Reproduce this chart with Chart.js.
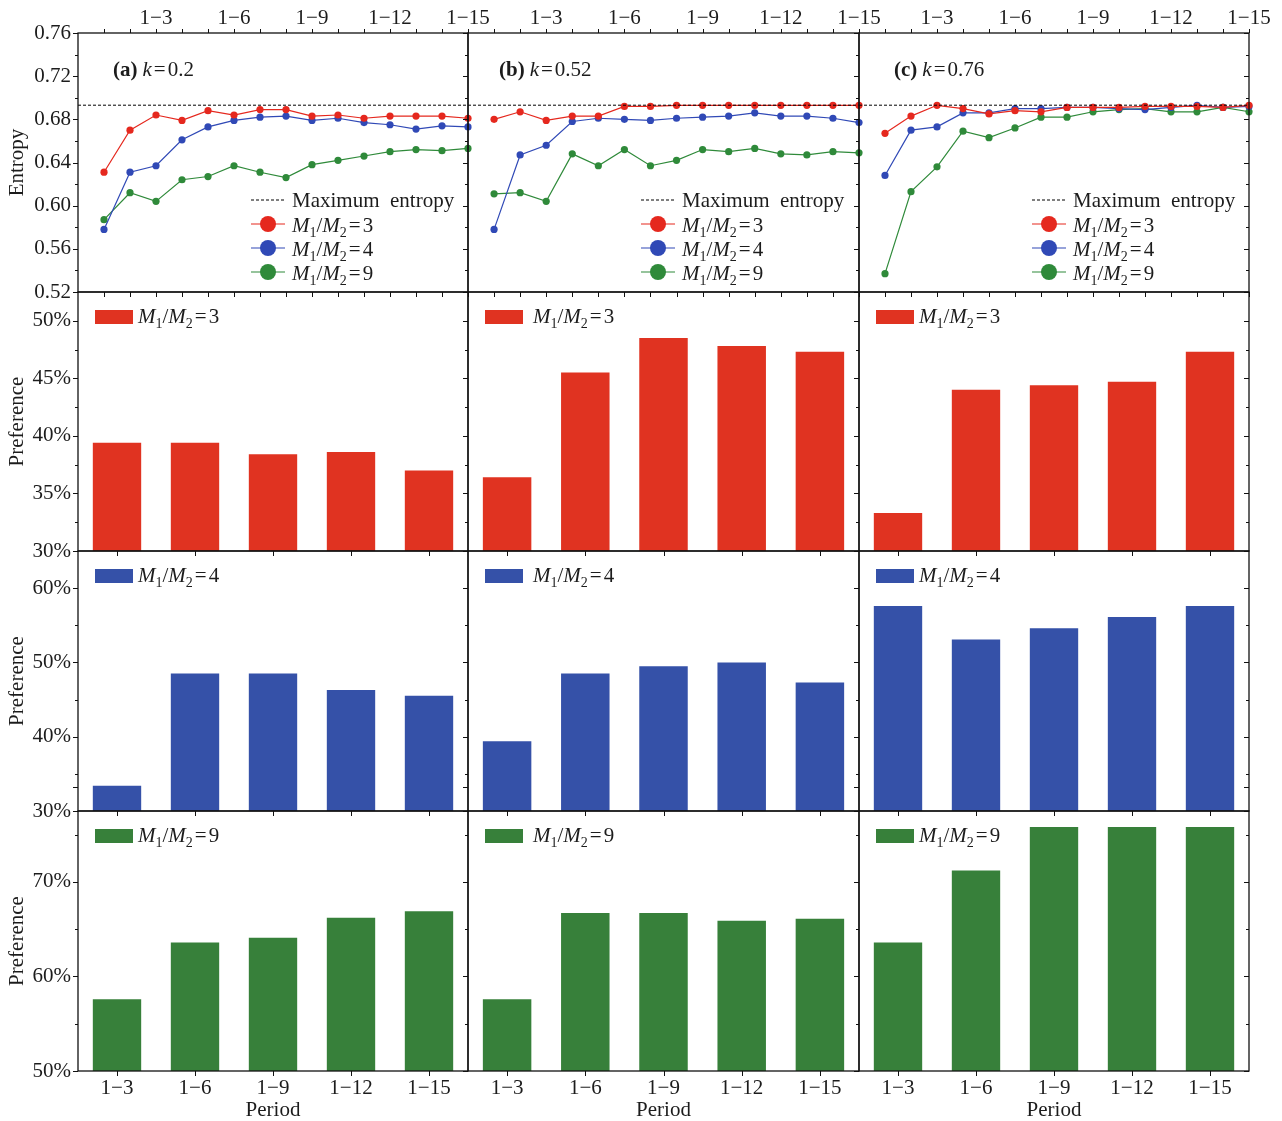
<!DOCTYPE html>
<html>
<head>
<meta charset="utf-8">
<script src="https://cdn.jsdelivr.net/npm/chart.js@4.4.1/dist/chart.umd.min.js"></script>
<style>
  html, body { margin: 0; padding: 0; background: #fff; overflow: hidden; }
  #fig { position: relative; width: 1282px; height: 1121px; overflow: hidden; background: #fff; }
  #fig canvas { position: absolute; }
</style>
</head>
<body>
<div id="fig"></div>
<script>
// ---------- data ----------
const periodLabels = ['1−3', '1−6', '1−9', '1−12', '1−15'];
const rounds = [1, 2, 3, 4, 5, 6, 7, 8, 9, 10, 11, 12, 13, 14, 15];
const roundTicks = [3, 6, 9, 12, 15];
const entropyTicks = [0.52, 0.56, 0.60, 0.64, 0.68, 0.72, 0.76];
const maxEntropy = 0.6931;

const kValues = ['0.2', '0.52', '0.76'];
const panelTags = ['(a)', '(b)', '(c)'];
const ratios = [3, 4, 9];

// entropy per round, one array per (k, M1/M2)
const entropyA3 = [0.631, 0.670, 0.684, 0.679, 0.688, 0.684, 0.689, 0.689, 0.683, 0.684, 0.681, 0.683, 0.683, 0.683, 0.681];
const entropyA4 = [0.578, 0.631, 0.637, 0.661, 0.673, 0.679, 0.682, 0.683, 0.679, 0.681, 0.677, 0.675, 0.671, 0.674, 0.673];
const entropyA9 = [0.587, 0.612, 0.604, 0.624, 0.627, 0.637, 0.631, 0.626, 0.638, 0.642, 0.646, 0.650, 0.652, 0.651, 0.653];
const entropyB3 = [0.680, 0.687, 0.679, 0.683, 0.683, 0.692, 0.692, 0.693, 0.693, 0.693, 0.693, 0.693, 0.693, 0.693, 0.693];
const entropyB4 = [0.578, 0.647, 0.656, 0.678, 0.681, 0.680, 0.679, 0.681, 0.682, 0.683, 0.686, 0.683, 0.683, 0.681, 0.677];
const entropyB9 = [0.611, 0.612, 0.604, 0.648, 0.637, 0.652, 0.637, 0.642, 0.652, 0.650, 0.653, 0.648, 0.647, 0.650, 0.649];
const entropyC3 = [0.667, 0.683, 0.693, 0.690, 0.685, 0.688, 0.687, 0.691, 0.691, 0.691, 0.692, 0.692, 0.692, 0.691, 0.693];
const entropyC4 = [0.628, 0.670, 0.673, 0.686, 0.686, 0.690, 0.690, 0.691, 0.691, 0.690, 0.689, 0.691, 0.693, 0.691, 0.692];
const entropyC9 = [0.537, 0.613, 0.636, 0.669, 0.663, 0.672, 0.682, 0.682, 0.687, 0.689, 0.690, 0.687, 0.687, 0.691, 0.687];

// preference (%) per cumulative period
const prefA3 = [39.4, 39.4, 38.4, 38.6, 37.0];
const prefB3 = [36.4, 45.5, 48.5, 47.8, 47.3];
const prefC3 = [33.3, 44.0, 44.4, 44.7, 47.3];
const prefA4 = [33.4, 48.5, 48.5, 46.3, 45.5];
const prefB4 = [39.4, 48.5, 49.5, 50.0, 47.3];
const prefC4 = [57.6, 53.1, 54.6, 56.1, 57.6];
const prefA9 = [57.6, 63.6, 64.1, 66.2, 66.9];
const prefB9 = [57.6, 66.7, 66.7, 65.9, 66.1];
const prefC9 = [63.6, 71.2, 75.8, 75.8, 75.8];

const prefTicks3 = [30, 35, 40, 45, 50];
const prefTicks4 = [30, 40, 50, 60];
const prefTicks9 = [50, 60, 70];

// ---------- styling ----------
const FONT = "'Liberation Serif', 'Times New Roman', serif";
const INK = '#1c1c1c';
const LINE_COL = { 3: '#e5281e', 4: '#3049b6', 9: '#2f8a3a' };
const BAR_COL = { 3: '#e03321', 4: '#3551a8', 9: '#37803a' };

Chart.defaults.font.family = FONT;
Chart.defaults.color = INK;

// grid geometry (plot-area edges)
const COL_X = [78, 468, 859, 1249];
const ROW_Y = [33, 292, 551, 811, 1071];
const M_LEFT = 78, M_TOP = 33, M_RIGHT = 40, M_BOTTOM = 50;

// ---------- mixed-style text ----------
function drawRich(ctx, parts, x, baseline) {
  let cx = x;
  ctx.textBaseline = 'alphabetic';
  ctx.textAlign = 'left';
  for (const p of parts) {
    const size = p.sub ? 14 : 21;
    ctx.font = (p.b ? 'bold ' : '') + (p.i ? 'italic ' : '') + size + 'px ' + FONT;
    ctx.fillText(p.t, cx, baseline + (p.sub ? 5 : 0));
    cx += ctx.measureText(p.t).width + (p.gap || 0);
  }
}
const ratioText = n => [
  { t: 'M', i: 1 }, { t: '1', sub: 1 }, { t: '/' }, { t: 'M', i: 1 },
  { t: '2', sub: 1, gap: 2 }, { t: '=', gap: 2 }, { t: String(n) }
];

// frame, tick marks, legend and panel tag
const panelDecor = {
  id: 'panelDecor',
  afterDraw(chart, args, o) {
    const { ctx } = chart;
    const { left, right, top, bottom } = chart.chartArea;
    const ys = chart.scales.y, xs = chart.scales.x;
    const seg = (x1, y1, x2, y2) => { ctx.beginPath(); ctx.moveTo(x1, y1); ctx.lineTo(x2, y2); ctx.stroke(); };
    ctx.save();
    ctx.strokeStyle = '#111';
    ctx.lineWidth = 1;
    // y tick marks: outward on the left, inward on the right
    const n = Math.round((o.yMax - o.yMin) / o.yMinor);
    for (let i = 0; i <= n; i++) {
      const v = o.yMin + i * o.yMinor;
      const r = (v - o.yMajorFrom) / o.yMajor;
      const major = Math.abs(r - Math.round(r)) < 1e-6;
      const len = major ? 5 : 3;
      const py = Math.round(ys.getPixelForValue(v)) + 0.5;
      seg(left - len, py, left, py);
      seg(right - len, py, right, py);
    }
    // x tick marks
    for (const v of o.xMarks) {
      const px = Math.round(xs.getPixelForValue(v)) + 0.5;
      if (o.xTop) seg(px, top - 4, px, top);
      seg(px, bottom, px, bottom + 5);
    }
    // frame
    ctx.lineWidth = 1.3;
    ctx.strokeRect(left, top, right - left, bottom - top);

    ctx.fillStyle = INK;
    if (o.tag) {
      drawRich(ctx, [{ t: o.tag.name, b: 1, gap: 5 }, { t: 'k', i: 1, gap: 2 }, { t: '=', gap: 2 }, { t: o.tag.k }],
        left + o.tag.dx, top + 43);
    }
    if (o.lineLegend) {
      const lx = left + 173, tx = left + 214;
      let y = top + 167;
      ctx.strokeStyle = '#000';
      ctx.lineWidth = 1;
      ctx.setLineDash([3, 2]);
      seg(lx, y, lx + 34, y);
      ctx.setLineDash([]);
      ctx.fillStyle = INK;
      ctx.font = '21px ' + FONT;
      ctx.textBaseline = 'alphabetic';
      ctx.fillText('Maximum  entropy', tx, y + 7);
      ratios.forEach((m, i) => {
        const cy = top + 191 + i * 24;
        ctx.strokeStyle = LINE_COL[m];
        ctx.lineWidth = 1.2;
        seg(lx, cy, lx + 34, cy);
        ctx.fillStyle = LINE_COL[m];
        ctx.beginPath(); ctx.arc(lx + 17, cy, 8, 0, Math.PI * 2); ctx.fill();
        ctx.fillStyle = INK;
        drawRich(ctx, ratioText(m), tx, cy + 7.5);
      });
    }
    if (o.barLegend) {
      ctx.fillStyle = o.barLegend.color;
      ctx.fillRect(left + 17, top + 18, 38, 14);
      ctx.fillStyle = INK;
      drawRich(ctx, ratioText(o.barLegend.m), left + o.barLegend.tx, top + 31);
    }
    ctx.restore();
  }
};

// ---------- canvas placement ----------
const fig = document.getElementById('fig');
function makeCanvas(r, c) {
  const cv = document.createElement('canvas');
  const w = M_LEFT + (COL_X[c + 1] - COL_X[c]) + M_RIGHT;
  const h = M_TOP + (ROW_Y[r + 1] - ROW_Y[r]) + M_BOTTOM;
  cv.width = w; cv.height = h;
  cv.style.left = (COL_X[c] - M_LEFT) + 'px';
  cv.style.top = (ROW_Y[r] - M_TOP) + 'px';
  cv.style.width = w + 'px'; cv.style.height = h + 'px';
  fig.appendChild(cv);
  return cv;
}

const tickFont = { family: FONT, size: 21 };
const titleFont = { family: FONT, size: 21, lineHeight: 1 };

// ---------- entropy panels ----------
const entropySets = [
  [entropyA3, entropyA4, entropyA9],
  [entropyB3, entropyB4, entropyB9],
  [entropyC3, entropyC4, entropyC9]
];
const tagDx = [35, 31, 35];

entropySets.forEach((sets, c) => {
  const first = c === 0;
  const datasets = [{
    data: [{ x: 0, y: maxEntropy }, { x: 15, y: maxEntropy }],
    borderColor: '#000', borderWidth: 1, borderDash: [3, 2], pointRadius: 0
  }];
  sets.forEach((vals, i) => {
    const col = LINE_COL[ratios[i]];
    datasets.push({
      data: rounds.map((x, j) => ({ x, y: vals[j] })),
      borderColor: col, backgroundColor: col, pointBackgroundColor: col,
      pointBorderWidth: 0, borderWidth: 1.2, pointRadius: 3.6, clip: false
    });
  });
  new Chart(makeCanvas(0, c), {
    type: 'line',
    data: { datasets },
    options: {
      responsive: false, animation: false, devicePixelRatio: 1,
      layout: { padding: { right: M_RIGHT, bottom: M_BOTTOM, left: 0, top: 0 } },
      plugins: {
        legend: { display: false }, tooltip: { enabled: false },
        panelDecor: {
          yMin: 0.52, yMax: 0.76, yMinor: 0.02, yMajor: 0.04, yMajorFrom: 0.52,
          xMarks: rounds, xTop: true,
          tag: { name: panelTags[c], k: kValues[c], dx: tagDx[c] },
          lineLegend: true
        }
      },
      scales: {
        x: {
          type: 'linear', position: 'top', min: 0, max: 15,
          afterBuildTicks: s => { s.ticks = roundTicks.map(v => ({ value: v })); },
          ticks: { callback: v => '1−' + v, font: tickFont, color: INK, padding: 2, maxRotation: 0, autoSkip: false },
          grid: { display: false, drawTicks: false }, border: { display: false },
          afterFit: s => { s.height = M_TOP; }
        },
        y: {
          min: 0.52, max: 0.76,
          afterBuildTicks: s => { s.ticks = entropyTicks.map(v => ({ value: v })); },
          ticks: { display: first, callback: v => v.toFixed(2), font: tickFont, color: INK, padding: 7 },
          title: { display: first, text: 'Entropy', font: titleFont, color: INK, padding: { top: 7, bottom: 0 } },
          grid: { display: false, drawTicks: false }, border: { display: false },
          afterFit: s => { s.width = M_LEFT; }
        }
      }
    },
    plugins: [panelDecor]
  });
});

// ---------- preference panels ----------
const prefRows = [
  { m: 3, sets: [prefA3, prefB3, prefC3], min: 30, max: 52.5, ticks: prefTicks3, minor: 2.5, major: 5 },
  { m: 4, sets: [prefA4, prefB4, prefC4], min: 30, max: 65, ticks: prefTicks4, minor: 5, major: 10 },
  { m: 9, sets: [prefA9, prefB9, prefC9], min: 50, max: 77.5, ticks: prefTicks9, minor: 5, major: 10 }
];
const legendTextX = [60, 65, 60];

prefRows.forEach((row, ri) => {
  const r = ri + 1;
  const last = r === 3;
  row.sets.forEach((vals, c) => {
    const first = c === 0;
    new Chart(makeCanvas(r, c), {
      type: 'bar',
      data: {
        labels: periodLabels,
        datasets: [{
          data: vals, backgroundColor: BAR_COL[row.m], borderWidth: 0,
          barPercentage: 0.62, categoryPercentage: 1
        }]
      },
      options: {
        responsive: false, animation: false, devicePixelRatio: 1,
        layout: { padding: { top: M_TOP, right: M_RIGHT, left: 0, bottom: 0 } },
        plugins: {
          legend: { display: false }, tooltip: { enabled: false },
          panelDecor: {
            yMin: row.min, yMax: row.max, yMinor: row.minor, yMajor: row.major, yMajorFrom: row.min,
            xMarks: [0, 1, 2, 3, 4], xTop: false,
            barLegend: { m: row.m, color: BAR_COL[row.m], tx: legendTextX[c] }
          }
        },
        scales: {
          x: {
            ticks: { display: last, font: tickFont, color: INK, padding: 5, maxRotation: 0 },
            title: { display: last, text: 'Period', font: titleFont, color: INK, padding: { top: 9, bottom: 0 } },
            grid: { display: false, drawTicks: false }, border: { display: false },
            afterFit: s => { s.height = M_BOTTOM; }
          },
          y: {
            min: row.min, max: row.max,
            afterBuildTicks: s => { s.ticks = row.ticks.map(v => ({ value: v })); },
            ticks: { display: first, callback: v => v + '%', font: tickFont, color: INK, padding: 7 },
            title: { display: first, text: 'Preference', font: titleFont, color: INK, padding: { top: 7, bottom: 0 } },
            grid: { display: false, drawTicks: false }, border: { display: false },
            afterFit: s => { s.width = M_LEFT; }
          }
        }
      },
      plugins: [panelDecor]
    });
  });
});
</script>
</body>
</html>
